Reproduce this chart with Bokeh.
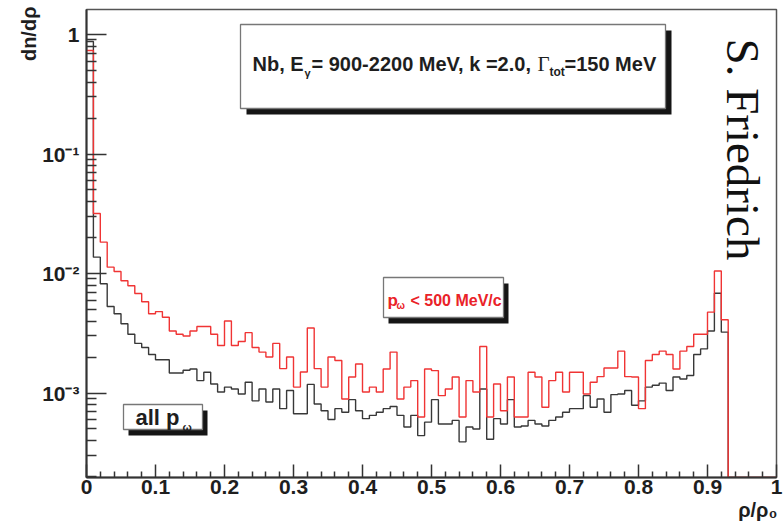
import numpy as np
from bokeh.plotting import figure
from bokeh.models import Label, BoxAnnotation, FixedTicker, Title
from bokeh.embed import file_html
from bokeh.resources import INLINE

# ---------------- data ----------------
bin_width = 0.01
red_values = [
    0.735, 0.0318, 0.0183, 0.0113, 0.0104, 0.0087, 0.0079, 0.0068, 0.0058, 0.0046,
    0.0048, 0.0043, 0.0033, 0.0031, 0.0030, 0.0033, 0.0036, 0.0036, 0.0031, 0.0025,
    0.0040, 0.0025, 0.0027, 0.0032, 0.0024, 0.0022, 0.0020, 0.0026, 0.0016, 0.0020,
    0.00112, 0.0015, 0.0035, 0.0016, 0.00112, 0.0020, 0.00187, 0.00089, 0.00136, 0.00175,
    0.00102, 0.00112, 0.00102, 0.00159, 0.0022, 0.00089, 0.00112, 0.00127, 0.00063, 0.00159,
    0.00154, 0.00095, 0.00108, 0.00136, 0.00063, 0.00127, 0.00102, 0.00245, 0.00063, 0.00119,
    0.00071, 0.00136, 0.00063, 0.00063, 0.00149, 0.00136, 0.00076, 0.00127, 0.00149, 0.00102,
    0.00149, 0.00149, 0.00098, 0.00123, 0.00137, 0.00162, 0.00162, 0.00224, 0.00137, 0.00136,
    0.00074, 0.00187, 0.0021, 0.00224, 0.0021, 0.00159, 0.00224, 0.00245, 0.0031, 0.0031,
    0.00475, 0.0105, 0.0041, 0, 0, 0, 0, 0, 0, 0,
]
black_values = [
    0.874, 0.0137, 0.0082, 0.0053, 0.0046, 0.0038, 0.0031, 0.0026, 0.0024, 0.0021,
    0.0019, 0.0019, 0.00147, 0.00147, 0.00155, 0.00159, 0.00127, 0.00149, 0.00119, 0.00102,
    0.00112, 0.00108, 0.00098, 0.00123, 0.00086, 0.00108, 0.00084, 0.00108, 0.00074, 0.00105,
    0.00067, 0.00067, 0.00118, 0.00081, 0.00071, 0.00060, 0.00074, 0.00069, 0.00088, 0.00071,
    0.00061, 0.00065, 0.00069, 0.00074, 0.00077, 0.00065, 0.00052, 0.00065, 0.00044, 0.00057,
    0.00088, 0.00055, 0.00055, 0.00059, 0.00039, 0.00052, 0.0005, 0.00108, 0.00041, 0.00061,
    0.00055, 0.00088, 0.00052, 0.00053, 0.00059, 0.00055, 0.00053, 0.00059, 0.00063, 0.00069,
    0.00074, 0.00074, 0.00095, 0.00076, 0.00089, 0.00069, 0.00097, 0.00098, 0.00105, 0.00079,
    0.00086, 0.00112, 0.00116, 0.00121, 0.00105, 0.00136, 0.00131, 0.0014, 0.0021, 0.00234,
    0.0033, 0.00684, 0.00323, 0, 0, 0, 0, 0, 0, 0,
]
xtick_values = [0, 0.1, 0.2, 0.3, 0.4, 0.5, 0.6, 0.7, 0.8, 0.9, 1.0]
xtick_labels = ["0", "0.1", "0.2", "0.3", "0.4", "0.5", "0.6", "0.7", "0.8", "0.9", "1"]
ytick_exponents = [0, -1, -2, -3]
ytick_labels = ["1", "10⁻¹", "10⁻²", "10⁻³"]

# ---------------- geometry helpers (pixel -> data) ----------------
FL, FR, FT, FB = 86, 776, 9, 477
ONE_PX, DEC_PX = 34.0, 119.5
SHIFT = 7  # label baseline correction

def dx(px):
    return (px - FL) / (FR - FL)

def dy(py):
    return 10 ** (-(py - ONE_PX) / DEC_PX)

ymin, ymax = dy(FB), dy(FT)

p = figure(width=784, height=527, x_range=(0, 1), y_range=(ymin, ymax),
           y_axis_type="log", output_backend="svg", toolbar_location=None,
           min_border_left=FL, min_border_right=784 - FR,
           min_border_top=FT, min_border_bottom=527 - FB, title=None)
p.background_fill_color = "white"
p.border_fill_color = "white"
p.xgrid.visible = False
p.ygrid.visible = False
p.outline_line_color = "#555555"
p.outline_line_width = 1.5

# ---------------- histograms ----------------
edges = np.arange(len(red_values) + 1) * bin_width

def step_y(vals):
    v = np.array(list(vals) + [vals[-1]], dtype=float)
    return np.where(v > 0, v, ymin)

p.step(edges, step_y(black_values), mode="after", line_color="#383838", line_width=1.4)
p.step(edges, step_y(red_values), mode="after", line_color="#f03434", line_width=1.4)

# ---------------- axes ----------------
ax = p.xaxis[0]
minor_x = [round(v, 2) for v in np.arange(0, 1.0001, 0.02) if round(v * 10, 6) % 1 != 0]
ax.ticker = FixedTicker(ticks=xtick_values, minor_ticks=minor_x)
ax.major_label_overrides = {float(v): t for v, t in zip(xtick_values, xtick_labels)}
ax.major_label_text_font = "Liberation Sans"
ax.major_label_text_font_style = "bold"
ax.major_label_text_font_size = "21px"
ax.major_label_text_color = "#1e1e1e"
ax.major_label_standoff = 2
ax.major_tick_in, ax.major_tick_out = 13, 0
ax.minor_tick_in, ax.minor_tick_out = 6, 0

ay = p.yaxis[0]
minor_y = [k * 10.0 ** e for e in range(-4, 0) for k in range(2, 10)]
ytick_values = [10.0 ** e for e in ytick_exponents]
ay.ticker = FixedTicker(ticks=ytick_values, minor_ticks=minor_y)
ay.major_label_overrides = {v: t for v, t in zip(ytick_values, ytick_labels)}
ay.major_label_text_font = "Liberation Sans"
ay.major_label_text_font_style = "bold"
ay.major_label_text_font_size = "21px"
ay.major_label_text_color = "#1e1e1e"
ay.major_label_standoff = 7
ay.major_tick_in, ay.major_tick_out = 20, 0
ay.minor_tick_in, ay.minor_tick_out = 10, 0

for a in (ax, ay):
    a.axis_line_width = 2
    a.axis_line_color = "#333333"
    a.major_tick_line_color = "#333333"
    a.minor_tick_line_color = "#333333"
    a.major_tick_line_width = 1.5
    a.minor_tick_line_width = 1.5

# axis titles (outside frame -> Titles)
p.add_layout(Title(text="dn/dρ", align="right", text_font="Liberation Sans",
                   text_font_style="bold", text_font_size="20px",
                   text_color="#1e1e1e", standoff=0, offset=-3), "left")
p.add_layout(Title(text="ρ/ρ₀", align="right", text_font="Liberation Sans",
                   text_font_style="bold", text_font_size="20px",
                   text_color="#1e1e1e", standoff=0, offset=-1), "below")


def lab(text, px, py, size, color="#1e1e1e", align="left",
        font="Liberation Sans", style="bold", angle=0):
    p.add_layout(Label(x=dx(px), y=dy(py), text=text, text_font_size=f"{size}px",
                       text_color=color, text_align=align, text_baseline="alphabetic",
                       text_font=font, text_font_style=style, angle=angle))

# ---------------- text boxes ----------------
def box(x0, y0, x1, y1, off=(6, 6)):
    p.add_layout(BoxAnnotation(left=dx(x0 + off[0]), right=dx(x1 + off[0]),
                               top=dy(y0 + off[1]), bottom=dy(y1 + off[1]),
                               fill_color="#151515", fill_alpha=1, line_color=None))
    p.add_layout(BoxAnnotation(left=dx(x0), right=dx(x1), top=dy(y0), bottom=dy(y1),
                               fill_color="white", fill_alpha=1,
                               line_color="#777777", line_width=1.3, line_alpha=1))

box(240, 24, 665, 108)
box(383, 277, 503, 317, off=(5, 6))
box(123, 404, 202, 429, off=(5, 6))

# title box text
lab("Nb, E", 252, 70 - SHIFT, 20)
lab("γ", 304, 79 - SHIFT, 11)
lab("= 900-2200 MeV, k =2.0,", 311, 70 - SHIFT, 20)
lab("Γ", 537, 70 - SHIFT, 21, font="Liberation Serif", style="normal")
lab("tot", 549, 78 - SHIFT, 12)
lab("=150 MeV", 564, 70 - SHIFT, 20)

# red legend
RED = "#ea2228"
lab("p", 387, 307 - SHIFT, 17, color=RED)
lab("ω", 396, 312 - SHIFT, 10, color=RED)
lab("< 500 MeV/c", 410, 307 - SHIFT, 16, color=RED)

# black legend
lab("all p", 135, 424 - SHIFT, 22)
lab("ω", 182, 433 - SHIFT, 11)

# author credit (rotated clockwise, tops to the right)
p.add_layout(Label(x=dx(737 + SHIFT - 2), y=dy(38), text="S. Friedrich",
                   text_font_size="47px", text_color="#111111", text_align="left",
                   text_baseline="alphabetic", text_font="Liberation Serif",
                   angle=-np.pi / 2))

open("out.html", "w").write(file_html(p, INLINE))
